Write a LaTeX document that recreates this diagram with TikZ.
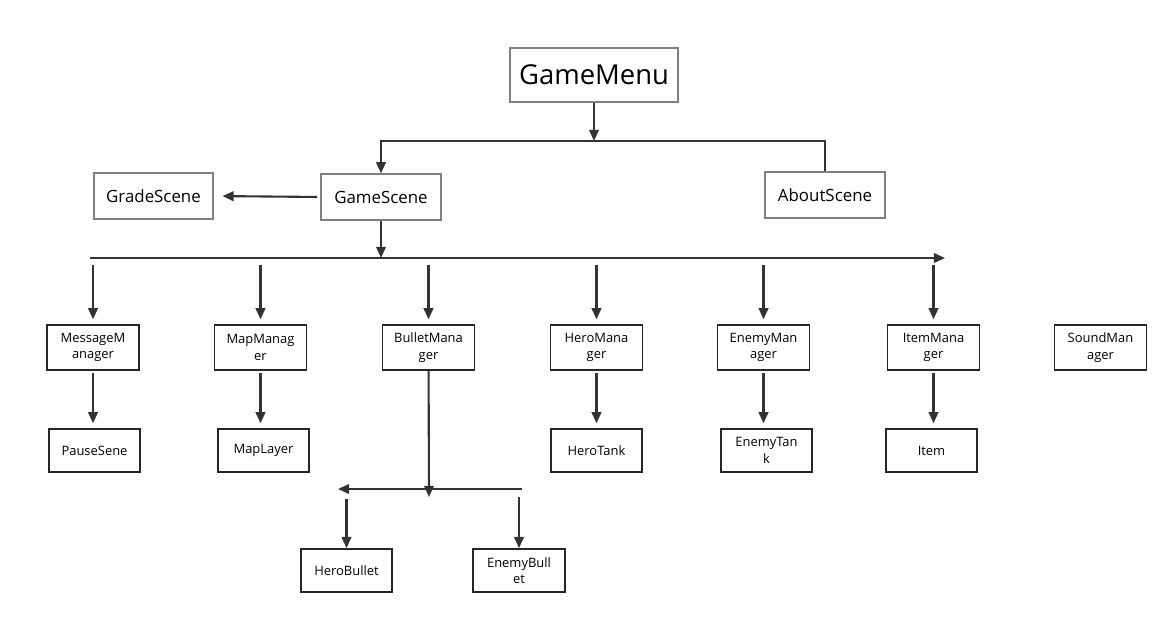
\documentclass[tikz,border=0pt]{standalone}
\usepackage{fontspec}
\setmainfont{Open Sans}
\usepackage{xcolor}
\usepackage{tikz}
\usetikzlibrary{arrows.meta, positioning, calc}

\definecolor{linegray}{HTML}{333333}
\definecolor{boxgray}{HTML}{808080}

\begin{document}
\begin{tikzpicture}[x=0.025cm, y=-0.025cm]
        \tikzstyle{scene} = [rectangle, draw=boxgray, line width=0.9pt, text centered, font=\fontsize{12}{14}\selectfont, minimum width=3cm, minimum height=1.15cm, inner sep=0pt]
        \tikzstyle{manager} = [rectangle, draw=black!85, line width=1.2pt, align=center, font=\fontsize{9.2}{11.8}\selectfont, minimum width=2.3cm, minimum height=1.125cm, inner sep=0pt]
        \tikzstyle{leaf} = [manager, minimum width=2.275cm, minimum height=1.075cm]
        \tikzstyle{line} = [draw=linegray, line width=1.5pt, -{Triangle[length=2.8mm, width=2.4mm]}]

        \useasboundingbox (0,0) rectangle (1176,625);

        % top level
        \node [scene, minimum width=4.2cm, minimum height=1.35cm, font=\fontsize{19.5}{24}\selectfont] (menu) at (594,75) {GameMenu};
        \node [scene] (game) at (381,197) {GameScene};
        \node [scene, minimum width=2.975cm] (grade) at (153.5,196) {GradeScene};
        \node [scene] (about) at (825,195) {AboutScene};

        \coordinate (menubus) at (594,141);
        \path [line] (menu) -- (menubus);
        \path [line] (about.north) -- (about.north |- menubus) -| (game.north);
        \path [line, shorten <=0.08cm, shorten >=0.22cm] (game.west) -- (grade.east);

        % managers
        \node [manager] (msg) at (93,347.5) {MessageM\\anager};
        \node [manager] (map) at (260.5,347.5) {MapManag\\er};
        \node [manager] (bullet) at (428.5,347.5) {BulletMana\\ger};
        \node [manager] (hero) at (596.5,347.5) {HeroMana\\ger};
        \node [manager] (enemy) at (763.5,347.5) {EnemyMan\\ager};
        \node [manager] (item) at (933.5,347.5) {ItemMana\\ger};
        \node [manager] (sound) at (1100.5,347.5) {SoundMan\\ager};

        \coordinate (busL) at (90,258);
        \coordinate (busR) at (945,258);
        \path [line] (game) -- (game.south |- busL);
        \path [line] (busL) -- (busR);
        \foreach \m in {msg, map, bullet, hero, enemy, item}
            \path [line, shorten <=0.17cm, shorten >=0.12cm] (\m.north |- busL) -- (\m.north);

        % leaves
        \node [leaf] (pause) at (94.5,450.5) {PauseSene};
        \node [leaf] (layer) at (263.5,450.5) {MapLayer};
        \node [leaf] (herotank) at (596.5,450.5) {HeroTank};
        \node [leaf] (enemytank) at (766.5,450.5) {EnemyTan\\k};
        \node [leaf] (itm) at (931.5,450.5) {Item};

        \foreach \a/\b in {msg/pause, map/layer, hero/herotank, enemy/enemytank, item/itm}
            \path [line, shorten <=0.05cm, shorten >=0.12cm] (\a) -- (\a |- \b.north);

        % bullets
        \node [leaf] (herobul) at (346.5,570.5) {HeroBullet};
        \node [leaf, minimum width=2.3cm] (enemybul) at (519,570.5) {EnemyBull\\et};

        \coordinate (bulhit) at (429,497);
        \coordinate (bulbusL) at (338,489);
        \coordinate (bulbusR) at (522,489);
        \path [line] (bullet) -- (bulhit);
        \path [line] (bulbusR) -- (bulbusL);
        \path [line, shorten <=0.25cm] (herobul.north |- bulbusL) -- (herobul.north);
        \path [line, shorten <=0.2cm] (enemybul.north |- bulbusR) -- (enemybul.north);
\end{tikzpicture}
\end{document}
